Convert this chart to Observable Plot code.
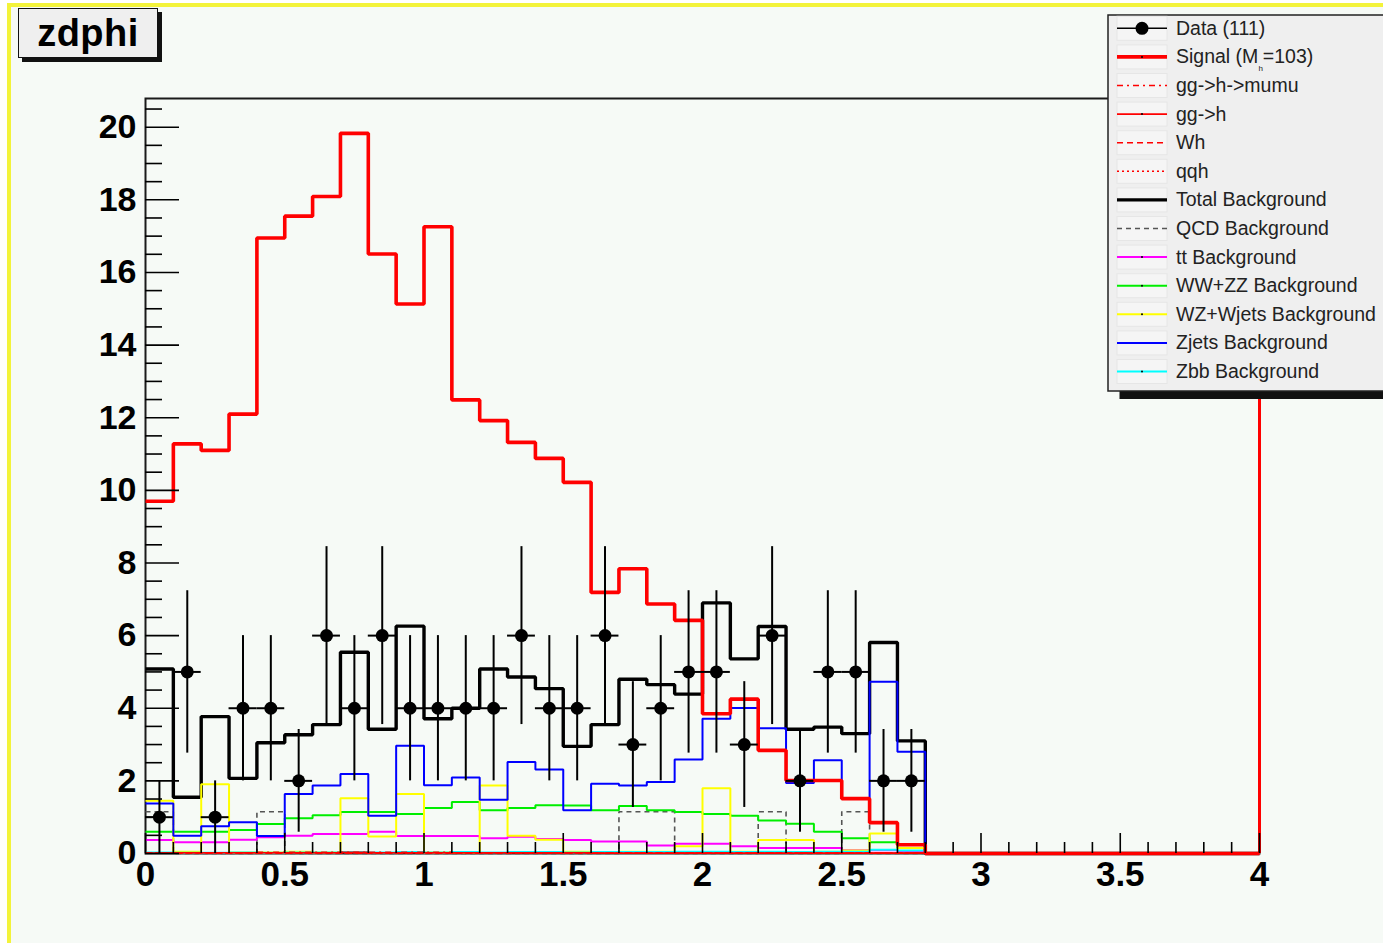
<!DOCTYPE html>
<html>
<head>
<meta charset="utf-8">
<script src="https://cdn.jsdelivr.net/npm/d3@7"></script>
<script src="https://cdn.jsdelivr.net/npm/@observablehq/plot@0.6"></script>
<style>
  html, body { margin: 0; padding: 0; background: #fff; }
  #canvas { position: relative; width: 1383px; height: 943px; overflow: hidden; background: #fff;
            font-family: "Liberation Sans", Arial, sans-serif; }
  #pad { position: absolute; left: 7px; top: 3px; right: 0; bottom: 0; background: #f6faf6;
         border-left: 4px solid #f3f33a; border-top: 4px solid #f3f33a; }
  #chart { position: absolute; left: 0; top: 0; }
  #title { position: absolute; left: 18px; top: 8px; width: 138px; height: 48px; background: #efefef;
           border: 1.5px solid #111; box-shadow: 4px 4px 0 #111; font-weight: bold; font-size: 38px;
           letter-spacing: 0.5px; text-align: center; line-height: 48px; color: #000; }
  #legend { position: absolute; left: 1107px; top: 14px; }
</style>
</head>
<body>
<div id="canvas">
  <div id="pad"></div>
  <div id="chart"></div>
  <div id="title">zdphi</div>
  <div id="legend"></div>
</div>
<script>
// Histogram binning: 40 bins of width 0.1 over [0, 4]
const binEdges = d3.range(41).map(i => i / 10);
const binLow = binEdges.slice(0, 40);

// Observed events per bin (bins above 2.8 are empty)
const dataCounts = [1, 5, 1, 4, 4, 2, 6, 4, 6, 4, 4, 4, 4, 6, 4, 4, 6, 3, 4, 5, 5, 3, 6, 2, 5, 5, 2, 2];

// Scaled signal, M_h = 103
const signal = [9.70, 11.28, 11.10, 12.10, 16.95, 17.55, 18.09, 19.83, 16.51, 15.13, 17.26, 12.49, 11.92, 11.32,
                10.88, 10.22, 7.19, 7.84, 6.87, 6.42, 3.85, 4.25, 2.84, 2.01, 2.01, 1.51, 0.85, 0.24];

// Signal production modes
const ggHmumu = [0.02, 0.02, 0.02, 0.02, 0.03, 0.03, 0.03, 0.03, 0.03, 0.03, 0.03, 0.02, 0.02, 0.02,
                 0.02, 0.02, 0.01, 0.01, 0.01, 0.01, 0.01, 0.01, 0.01, 0.01, 0.01, 0.01, 0.01, 0.01];
const ggH = [0.01, 0.02, 0.02, 0.02, 0.02, 0.02, 0.02, 0.03, 0.02, 0.02, 0.02, 0.02, 0.02, 0.02,
             0.02, 0.02, 0.01, 0.01, 0.01, 0.01, 0.01, 0.01, 0.01, 0.01, 0.01, 0.01, 0.01, 0.01];
const wH = [0.01, 0.01, 0.01, 0.01, 0.01, 0.01, 0.01, 0.01, 0.01, 0.01, 0.01, 0.01, 0.01, 0.01,
            0.01, 0.01, 0.01, 0.01, 0.01, 0.01, 0.01, 0.01, 0.01, 0.01, 0.01, 0.01, 0.01, 0.01];
const qqH = [0.01, 0.01, 0.01, 0.01, 0.01, 0.01, 0.01, 0.01, 0.01, 0.01, 0.01, 0.01, 0.01, 0.01,
             0.01, 0.01, 0.01, 0.01, 0.01, 0.01, 0.01, 0.01, 0.01, 0.01, 0.01, 0.01, 0.01, 0.01];

// Backgrounds
const totalBkg = [5.08, 1.55, 3.77, 2.07, 3.05, 3.27, 3.55, 5.54, 3.42, 6.26, 3.71, 4.00, 5.08, 4.86,
                  4.54, 2.95, 3.55, 4.80, 4.65, 4.39, 6.90, 5.36, 6.25, 3.42, 3.48, 3.30, 5.81, 3.10];
const qcdBkg = [1.15, 0, 0, 0, 1.15, 0, 0, 0, 0, 0, 0, 0, 0, 0,
                0, 0, 0, 1.15, 1.15, 0, 0, 0, 1.15, 0, 0, 1.15, 0, 0];
const ttBkg = [0.37, 0.31, 0.31, 0.38, 0.45, 0.49, 0.54, 0.54, 0.60, 0.48, 0.48, 0.48, 0.42, 0.46,
               0.40, 0.37, 0.33, 0.33, 0.22, 0.27, 0.27, 0.20, 0.15, 0.15, 0.15, 0.09, 0.09, 0.07];
const wwzzBkg = [0.60, 0.60, 0.60, 0.65, 0.81, 0.97, 1.05, 1.14, 1.14, 1.09, 1.25, 1.42, 1.19, 1.25,
                 1.33, 1.32, 1.19, 1.31, 1.19, 1.14, 1.09, 1.04, 0.91, 0.82, 0.60, 0.42, 0.31, 0.15];
const wzWjetsBkg = [1.45, 0.05, 1.91, 0.03, 0.03, 0.05, 0.03, 1.52, 0.47, 1.64, 0.03, 0.03, 1.87, 0.49,
                    0.38, 0.05, 0.03, 0.05, 0.05, 0.20, 1.80, 0.05, 0.37, 0.37, 0.05, 0.08, 0.55, 0.15];
const zjetsBkg = [1.38, 0.49, 0.75, 0.86, 0.48, 1.64, 1.87, 2.19, 1.04, 2.97, 1.88, 2.09, 1.48, 2.52,
                  2.31, 1.19, 1.92, 1.87, 1.97, 2.59, 3.71, 4.01, 3.45, 1.94, 2.57, 1.52, 4.73, 2.80];
const zbbBkg = [0.03, 0.02, 0.02, 0.03, 0.02, 0.03, 0.03, 0.04, 0.03, 0.04, 0.03, 0.04, 0.03, 0.04,
                0.04, 0.03, 0.04, 0.04, 0.04, 0.05, 0.05, 0.04, 0.05, 0.04, 0.05, 0.05, 0.10, 0.08];

// Axis ticks and labels
const xMajorTicks = [0, 0.5, 1, 1.5, 2, 2.5, 3, 3.5, 4];
const yMajorTicks = [0, 2, 4, 6, 8, 10, 12, 14, 16, 18, 20];
const yMax = 20.79;

const RED = "#ff0000";
const series = [
  {label: "Total Background", values: totalBkg, stroke: "#000000", width: 3.4},
  {label: "QCD Background", values: qcdBkg, stroke: "#555555", width: 1.6, dash: "5,4"},
  {label: "tt Background", values: ttBkg, stroke: "#ff00ff", width: 2, dot: true},
  {label: "WW+ZZ Background", values: wwzzBkg, stroke: "#00ee00", width: 2, dot: true},
  {label: "WZ+Wjets Background", values: wzWjetsBkg, stroke: "#ffff00", width: 2, dot: true},
  {label: "Zjets Background", values: zjetsBkg, stroke: "#0000ff", width: 2},
  {label: "Zbb Background", values: zbbBkg, stroke: "#00ffff", width: 2, dot: true},
  {label: "gg->h->mumu", values: ggHmumu, stroke: RED, width: 1.6, dash: "6,4,2,4"},
  {label: "gg->h", values: ggH, stroke: RED, width: 1.6, dot: true},
  {label: "Wh", values: wH, stroke: RED, width: 1.6, dash: "6,4"},
  {label: "qqh", values: qqH, stroke: RED, width: 1.6, dash: "2,3"},
  {label: "Signal", values: signal, stroke: RED, width: 3.6, dot: true}
];

// Histogram outline: one point per bin low edge, closed at the upper edge
function outline(vals) {
  const pts = binLow.map((lo, i) => ({x: lo, y: vals[i] ?? 0}));
  pts.push({x: binEdges[40], y: 0});
  return pts;
}

const points = dataCounts
  .map((n, i) => ({lo: binEdges[i], hi: binEdges[i + 1], x: (binEdges[i] + binEdges[i + 1]) / 2, n, err: Math.sqrt(n)}))
  .filter(d => d.n > 0);

const W = 1383, H = 943, mL = 145, mR = 124, mT = 98, mB = 90;
const plotW = W - mL - mR, plotH = H - mT - mB;

const yMinor = d3.range(0, yMax, 0.5).filter(v => v % 2 !== 0);
const xMinor = binLow.filter((v, i) => i % 5 !== 0);

const chart = Plot.plot({
  width: W, height: H,
  marginLeft: mL, marginRight: mR, marginTop: mT, marginBottom: mB,
  style: {background: "transparent", fontFamily: "'Liberation Sans', Arial, sans-serif", color: "#000"},
  x: {domain: [0, 4]},
  y: {domain: [0, yMax]},
  marks: [
    Plot.frame({stroke: "#1a1a1a", strokeWidth: 2}),
    // signal overflow edge at the right of the frame
    Plot.ruleX([4], {y1: 0, y2: yMax, stroke: RED, strokeWidth: 3}),
    ...series.map(s => Plot.line(outline(s.values), {
      x: "x", y: "y", curve: "step-after", stroke: s.stroke, strokeWidth: s.width,
      strokeDasharray: s.dash, strokeLinejoin: "miter", strokeLinecap: "butt"
    })),
    // inward ticks
    Plot.tickY(yMajorTicks, {y: d => d, insetRight: plotW - 34, stroke: "#000", strokeWidth: 1.6}),
    Plot.tickY(yMinor, {y: d => d, insetRight: plotW - 17, stroke: "#000", strokeWidth: 1.6}),
    Plot.tickX(xMajorTicks, {x: d => d, insetTop: plotH - 20, stroke: "#000", strokeWidth: 1.6}),
    Plot.tickX(xMinor, {x: d => d, insetTop: plotH - 11, stroke: "#000", strokeWidth: 1.6}),
    Plot.axisY({ticks: yMajorTicks, tickSize: 0, tickPadding: 9, fontSize: 34, fontWeight: "bold", label: null}),
    Plot.axisX({ticks: xMajorTicks, tickSize: 0, tickPadding: 8, fontSize: 35, fontWeight: "bold", label: null,
                tickFormat: d => String(d)}),
    // data with Poisson errors
    Plot.ruleX(points, {x: "x", y1: d => d.n - d.err, y2: d => d.n + d.err, stroke: "#000", strokeWidth: 2}),
    Plot.ruleY(points, {y: "n", x1: "lo", x2: "hi", stroke: "#000", strokeWidth: 2}),
    Plot.dot(points, {x: "x", y: "n", r: 6.5, fill: "#000", stroke: "none"})
  ]
});
document.getElementById("chart").append(chart);

// Legend
const bySignal = Object.fromEntries(series.map(s => [s.label, s]));
const legendRows = [
  {kind: "data", label: `Data (${d3.sum(dataCounts)})`},
  {kind: "signal", ...bySignal["Signal"]},
  bySignal["gg->h->mumu"], bySignal["gg->h"], bySignal["Wh"], bySignal["qqh"],
  ...series.slice(0, 7)
];
const lgW = 300, lgH = 376;
const lg = d3.select("#legend").append("svg").attr("width", lgW + 14).attr("height", lgH + 12)
  .style("font-family", "'Liberation Sans', Arial, sans-serif");
lg.append("rect").attr("x", 12.5).attr("y", 9).attr("width", lgW).attr("height", lgH).attr("fill", "#111");
lg.append("rect").attr("x", 1).attr("y", 1).attr("width", lgW).attr("height", lgH)
  .attr("fill", "#efefef").attr("stroke", "#222").attr("stroke-width", 1.5);
const rowY = i => 14.3 + 28.6 * i;
const sx1 = 10, sx2 = 60;
legendRows.forEach((r, i) => {
  const y = rowY(i);
  const g = lg.append("g");
  g.append("rect").attr("x", sx1).attr("y", y - 12).attr("width", sx2 - sx1).attr("height", 24)
    .attr("fill", "#f5f5f5").attr("stroke", "#e6e6e6");
  if (r.kind === "data") {
    g.append("line").attr("x1", sx1).attr("x2", sx2).attr("y1", y).attr("y2", y).attr("stroke", "#000").attr("stroke-width", 1.6);
    g.append("circle").attr("cx", (sx1 + sx2) / 2).attr("cy", y).attr("r", 6.5).attr("fill", "#000");
  } else {
    g.append("line").attr("x1", sx1).attr("x2", sx2).attr("y1", y).attr("y2", y)
      .attr("stroke", r.stroke).attr("stroke-width", r.width).attr("stroke-dasharray", r.dash || null);
    if (r.dot) g.append("circle").attr("cx", (sx1 + sx2) / 2).attr("cy", y).attr("r", 1).attr("fill", "#000");
  }
  const t = g.append("text").attr("x", 69).attr("y", y + 6.5).attr("font-size", 19.5).attr("fill", "#222");
  if (r.kind === "signal") {
    t.append("tspan").text("Signal (M");
    t.append("tspan").attr("font-size", 8).attr("dy", 8).text("h");
    t.append("tspan").attr("dy", -8).text("=103)");
  } else {
    t.text(r.label);
  }
});
</script>
</body>
</html>
